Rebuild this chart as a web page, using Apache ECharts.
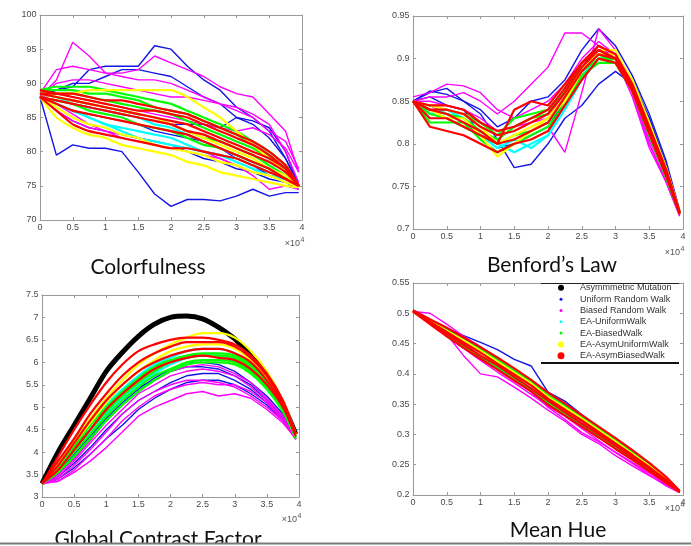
<!DOCTYPE html>
<html>
<head>
<meta charset="utf-8">
<script src="https://cdn.jsdelivr.net/npm/echarts@6/dist/echarts.min.js"></script>
<style>
html, body { margin: 0; padding: 0; background: #fff; }
#chart { width: 691px; height: 546px; }
</style>
</head>
<body>
<div id="chart"></div>
<script>
// sample positions along the run (same for every curve)
const xs = [0, 2500, 5000, 7500, 10000, 12500, 15000, 17500, 20000, 22500, 25000, 27500, 30000, 32500, 35000, 37500, 39500]

const methodNames = ['Asymmmetric Mutation', 'Uniform Random Walk', 'Biased Random Walk', 'EA-UniformWalk', 'EA-BiasedWalk', 'EA-AsymUniformWalk', 'EA-AsymBiasedWalk']
const methodColors = ['#000000', '#1414e6', '#ff00ff', '#00ffff', '#00ff00', '#ffff00', '#ff0000']

const plotTitles = ['Colorfulness', 'Benford’s Law', 'Global Contrast Factor', 'Mean Hue']
const yMins = [70, 0.7, 3, 0.2]
const yMaxs = [100, 0.95, 7.5, 0.55]
const ySteps = [5, 0.05, 0.5, 0.05]

// Colorfulness
const cfBlue = [
  [88, 79.5, 81, 80.5, 80.5, 80, 77, 73.8, 72, 73, 73, 72.8, 73.5, 74.5, 73.5, 74, 74],
  [88.5, 89, 89.5, 92, 92.5, 92.5, 92.5, 95.5, 95, 92.5, 90.5, 89, 86.5, 85, 83, 79, 75],
  [88, 89, 90, 90, 91, 92, 92, 91.5, 91, 89.5, 88, 87, 85, 84, 82, 79, 75],
  [88, 86, 84.5, 83.5, 83, 82.5, 82, 81.5, 81, 80, 79, 78.5, 77.5, 77, 76, 75.5, 74.5],
  [88, 87, 86, 85.5, 85, 84.5, 84, 83, 82.5, 82, 81.5, 80.5, 79, 78, 76.5, 76, 75],
  [88, 87.5, 87, 86.5, 86, 85.5, 85, 84.5, 84, 84, 84, 83.5, 85, 84.5, 83.5, 80, 75]
]
const cfMagenta = [
  [88, 90.5, 96, 94, 91.5, 91, 90.5, 90.5, 90, 89, 88, 87, 86.5, 85.5, 84, 80, 75.5],
  [88.5, 92, 92.5, 92, 91.5, 91.5, 92, 94, 93, 92, 91, 89.5, 88.5, 88, 85.5, 83, 77],
  [88, 90, 90.5, 90.5, 90, 89.5, 89, 88.5, 88, 88, 87.5, 87, 86, 85, 83, 81.5, 77.5],
  [88, 86, 84.5, 83.5, 83, 82.5, 82, 81.5, 81, 80.5, 80, 79, 78, 77, 76.5, 76, 75],
  [88, 88.5, 88, 87.5, 87, 86.5, 86, 85.5, 85, 84.5, 84, 83.5, 83, 83.5, 82.5, 80.5, 77],
  [88, 87, 85.5, 84, 83, 82, 81.5, 81, 80.5, 80, 79.5, 79, 78, 76.5, 74.5, 75, 74.5]
]
const cfCyan = [
  [88, 87, 86, 85, 84, 83.5, 83, 82.5, 82, 81, 80, 79.5, 78.5, 77.5, 76.5, 76, 75],
  [88.5, 88, 87, 86.5, 86, 85.5, 85, 84, 83.5, 82.5, 81.5, 80.5, 79.5, 78.5, 77.5, 76.5, 75],
  [88, 87, 86, 85, 84, 83, 82, 81.5, 81, 80.5, 80, 79.5, 79, 78, 77, 76, 75]
]
const cfGreen = [
  [89, 89.5, 89.5, 89.5, 89, 88.5, 88, 87.5, 87, 86, 85, 84, 83, 81.5, 80, 78, 75],
  [88.5, 88.5, 88.5, 88, 87.5, 87, 86.5, 86, 85.5, 84.5, 83.5, 82.5, 81.5, 80.5, 79, 77, 75],
  [88.5, 88, 87.5, 87, 86.5, 86, 85.5, 85, 84, 83, 82, 81.5, 80.5, 79.5, 78, 76.5, 75],
  [88, 87.5, 87, 86, 85.5, 85, 84, 83.5, 83, 82, 81, 80.5, 79.5, 78.5, 77.5, 76, 75],
  [89, 89, 89, 88.5, 88.5, 88, 87.5, 86.5, 86, 85.5, 84.5, 83.5, 82.5, 81, 79.5, 77.5, 75]
]
const cfYellow = [
  [88, 85, 83.5, 82.5, 82, 81, 80.5, 80, 79.5, 78.5, 78, 77, 76.5, 76, 75.5, 75, 74.8],
  [88, 86.5, 85, 84, 83.5, 82.5, 82, 81, 80.5, 80, 79.5, 78.5, 78, 77, 76.5, 75.5, 75],
  [88.5, 88, 87.5, 87, 86.5, 86, 85.5, 85, 84, 83, 82, 81, 80, 79, 77.5, 76.5, 75],
  [88.5, 88.5, 88.5, 89, 89, 89, 89, 89, 89, 88, 86.5, 85, 83, 81, 79, 77, 75]
]
const cfRed = [
  [88.5, 88.5, 88.5, 88, 87.5, 87.5, 87, 86.5, 86, 85.5, 84.5, 83.5, 82.5, 81.5, 80, 78, 75],
  [88, 87.5, 87, 86.5, 86, 85.5, 85, 84.5, 84, 83, 82.5, 81.5, 80.5, 79.5, 78.5, 77, 75],
  [88, 87, 86, 85.5, 85, 84.5, 84, 83.5, 83, 82.5, 81.5, 80.5, 79.5, 78.5, 77.5, 76, 75],
  [88, 86, 84, 83, 82.5, 82, 81.5, 81, 80.5, 80.5, 80, 79.5, 79, 78, 77, 76, 75],
  [88.5, 88, 87.5, 87, 86.5, 86, 85.5, 85, 84.5, 84, 83, 82, 81, 80, 79, 77.5, 75],
  [89, 88.5, 88, 87.5, 87, 86.5, 86, 86, 85.5, 85, 84, 83, 82, 81, 79.5, 77.5, 75]
]

// Benford's Law
const bfBlue = [
  [0.85, 0.862, 0.858, 0.85, 0.835, 0.805, 0.772, 0.776, 0.8, 0.83, 0.845, 0.87, 0.885, 0.87, 0.83, 0.775, 0.72],
  [0.85, 0.86, 0.865, 0.85, 0.84, 0.82, 0.83, 0.85, 0.855, 0.875, 0.91, 0.935, 0.915, 0.88, 0.835, 0.78, 0.722],
  [0.85, 0.855, 0.845, 0.84, 0.81, 0.795, 0.8, 0.81, 0.82, 0.85, 0.89, 0.915, 0.905, 0.875, 0.83, 0.775, 0.72]
]
const bfMagenta = [
  [0.85, 0.855, 0.855, 0.86, 0.85, 0.835, 0.85, 0.87, 0.89, 0.93, 0.93, 0.915, 0.9, 0.855, 0.795, 0.755, 0.716],
  [0.85, 0.845, 0.835, 0.83, 0.805, 0.79, 0.8, 0.81, 0.82, 0.79, 0.86, 0.935, 0.91, 0.86, 0.8, 0.755, 0.715],
  [0.85, 0.85, 0.845, 0.84, 0.83, 0.815, 0.82, 0.825, 0.83, 0.86, 0.895, 0.915, 0.905, 0.86, 0.805, 0.76, 0.717],
  [0.855, 0.86, 0.87, 0.868, 0.86, 0.84, 0.83, 0.84, 0.85, 0.87, 0.9, 0.92, 0.905, 0.86, 0.8, 0.757, 0.716]
]
const bfCyan = [
  [0.85, 0.84, 0.835, 0.83, 0.815, 0.8, 0.79, 0.8, 0.81, 0.845, 0.88, 0.9, 0.9, 0.865, 0.815, 0.765, 0.72],
  [0.85, 0.835, 0.84, 0.83, 0.81, 0.795, 0.805, 0.795, 0.81, 0.84, 0.875, 0.9, 0.895, 0.865, 0.815, 0.765, 0.718]
]
const bfGreen = [
  [0.85, 0.845, 0.84, 0.835, 0.825, 0.81, 0.83, 0.835, 0.84, 0.86, 0.89, 0.905, 0.9, 0.868, 0.818, 0.767, 0.72],
  [0.85, 0.84, 0.835, 0.83, 0.815, 0.805, 0.82, 0.83, 0.835, 0.865, 0.89, 0.905, 0.895, 0.865, 0.815, 0.765, 0.718],
  [0.85, 0.835, 0.83, 0.82, 0.81, 0.8, 0.81, 0.815, 0.825, 0.85, 0.885, 0.9, 0.9, 0.865, 0.812, 0.765, 0.718],
  [0.85, 0.825, 0.825, 0.825, 0.805, 0.79, 0.8, 0.81, 0.82, 0.845, 0.88, 0.895, 0.895, 0.862, 0.81, 0.76, 0.718]
]
const bfYellow = [
  [0.85, 0.845, 0.84, 0.835, 0.82, 0.8, 0.81, 0.82, 0.83, 0.855, 0.89, 0.905, 0.905, 0.875, 0.825, 0.772, 0.72],
  [0.85, 0.84, 0.83, 0.83, 0.81, 0.785, 0.8, 0.815, 0.83, 0.85, 0.885, 0.91, 0.91, 0.87, 0.82, 0.77, 0.72]
]
const bfRed = [
  [0.85, 0.84, 0.84, 0.835, 0.82, 0.81, 0.815, 0.825, 0.835, 0.86, 0.89, 0.91, 0.9, 0.865, 0.815, 0.765, 0.718],
  [0.85, 0.83, 0.83, 0.82, 0.81, 0.8, 0.805, 0.815, 0.825, 0.855, 0.885, 0.905, 0.9, 0.868, 0.818, 0.768, 0.72],
  [0.85, 0.82, 0.815, 0.81, 0.8, 0.79, 0.8, 0.805, 0.815, 0.845, 0.875, 0.9, 0.895, 0.862, 0.812, 0.762, 0.718],
  [0.85, 0.845, 0.845, 0.84, 0.825, 0.815, 0.82, 0.83, 0.84, 0.865, 0.895, 0.915, 0.905, 0.87, 0.82, 0.77, 0.72],
  [0.85, 0.84, 0.835, 0.825, 0.815, 0.8, 0.84, 0.85, 0.845, 0.87, 0.895, 0.91, 0.9, 0.866, 0.815, 0.766, 0.718]
]

// Global Contrast Factor
const gcBlack = [
  [3.3, 4.0, 4.6, 5.2, 5.8, 6.22, 6.58, 6.85, 7.0, 7.03, 6.97, 6.78, 6.52, 6.15, 5.68, 5.05, 4.4]
]
const gcBlue = [
  [3.3, 3.55, 3.95, 4.35, 4.75, 5.1, 5.4, 5.65, 5.85, 6.0, 6.0, 5.95, 5.8, 5.55, 5.25, 4.85, 4.3],
  [3.3, 3.45, 3.75, 4.1, 4.5, 4.85, 5.15, 5.35, 5.55, 5.7, 5.75, 5.75, 5.6, 5.4, 5.1, 4.75, 4.3],
  [3.3, 3.4, 3.65, 3.95, 4.3, 4.6, 4.95, 5.2, 5.4, 5.55, 5.6, 5.6, 5.5, 5.3, 5.05, 4.7, 4.3],
  [3.3, 3.5, 3.85, 4.3, 4.85, 5.2, 5.45, 5.6, 5.8, 5.9, 5.9, 5.85, 5.7, 5.5, 5.15, 4.8, 4.3]
]
const gcMagenta = [
  [3.3, 3.35, 3.55, 3.8, 4.1, 4.45, 4.8, 5.0, 5.15, 5.3, 5.35, 5.25, 5.3, 5.2, 4.95, 4.65, 4.3],
  [3.3, 3.4, 3.7, 4.05, 4.45, 4.85, 5.15, 5.35, 5.5, 5.6, 5.6, 5.55, 5.45, 5.25, 5.0, 4.7, 4.3],
  [3.3, 3.45, 3.8, 4.2, 4.6, 4.95, 5.3, 5.5, 5.7, 5.8, 5.85, 5.8, 5.7, 5.45, 5.15, 4.75, 4.3],
  [3.3, 3.35, 3.6, 3.95, 4.3, 4.7, 5.0, 5.25, 5.4, 5.5, 5.55, 5.5, 5.5, 5.35, 5.1, 4.7, 4.28],
  [3.3, 3.5, 3.85, 4.25, 4.7, 5.05, 5.35, 5.6, 5.8, 5.9, 5.95, 5.9, 5.75, 5.55, 5.2, 4.8, 4.3]
]
const gcCyan = [
  [3.3, 3.7, 4.15, 4.6, 5.05, 5.4, 5.7, 5.95, 6.1, 6.25, 6.3, 6.3, 6.2, 5.95, 5.6, 5.05, 4.4],
  [3.3, 3.6, 4.05, 4.45, 4.85, 5.2, 5.5, 5.75, 5.95, 6.1, 6.15, 6.15, 6.05, 5.85, 5.5, 5.0, 4.35]
]
const gcGreen = [
  [3.3, 3.65, 4.1, 4.5, 4.9, 5.25, 5.55, 5.8, 6.0, 6.1, 6.15, 6.15, 6.1, 5.9, 5.5, 5.0, 4.35],
  [3.3, 3.6, 4.0, 4.4, 4.8, 5.15, 5.45, 5.7, 5.85, 6.0, 6.05, 6.05, 6.0, 5.8, 5.45, 4.95, 4.35],
  [3.3, 3.55, 3.9, 4.3, 4.7, 5.05, 5.35, 5.6, 5.8, 5.95, 6.0, 6.0, 5.95, 5.75, 5.4, 4.9, 4.3],
  [3.3, 3.7, 4.15, 4.6, 5.0, 5.35, 5.65, 5.9, 6.05, 6.15, 6.2, 6.2, 6.15, 5.95, 5.55, 5.0, 4.35]
]
const gcYellow = [
  [3.3, 3.75, 4.25, 4.75, 5.2, 5.6, 5.95, 6.2, 6.4, 6.55, 6.65, 6.65, 6.55, 6.25, 5.8, 5.15, 4.4],
  [3.3, 3.7, 4.2, 4.65, 5.1, 5.5, 5.8, 6.05, 6.25, 6.35, 6.4, 6.4, 6.3, 6.05, 5.65, 5.1, 4.4]
]
const gcRed = [
  [3.3, 3.9, 4.5, 5.05, 5.55, 5.95, 6.25, 6.4, 6.5, 6.55, 6.55, 6.5, 6.4, 6.15, 5.75, 5.15, 4.4],
  [3.3, 3.7, 4.2, 4.7, 5.15, 5.5, 5.8, 6.0, 6.15, 6.25, 6.3, 6.3, 6.2, 6.0, 5.6, 5.05, 4.4],
  [3.3, 3.6, 4.05, 4.5, 4.95, 5.3, 5.6, 5.85, 6.0, 6.1, 6.15, 6.1, 6.05, 5.85, 5.5, 5.0, 4.35],
  [3.3, 3.8, 4.3, 4.85, 5.3, 5.7, 6.0, 6.2, 6.35, 6.45, 6.45, 6.45, 6.35, 6.1, 5.7, 5.1, 4.4]
]

// Mean Hue
const mhBlue = [
  [0.505, 0.49, 0.476, 0.463, 0.452, 0.44, 0.424, 0.413, 0.37, 0.355, 0.333, 0.312, 0.292, 0.27, 0.25, 0.229, 0.207],
  [0.503, 0.484, 0.465, 0.447, 0.428, 0.41, 0.392, 0.372, 0.35, 0.332, 0.314, 0.296, 0.277, 0.259, 0.24, 0.221, 0.205],
  [0.504, 0.488, 0.472, 0.456, 0.439, 0.421, 0.403, 0.385, 0.364, 0.344, 0.325, 0.306, 0.288, 0.27, 0.25, 0.228, 0.206]
]
const mhMagenta = [
  [0.503, 0.49, 0.465, 0.43, 0.4, 0.395, 0.378, 0.36, 0.34, 0.322, 0.3, 0.285, 0.265, 0.248, 0.232, 0.217, 0.204],
  [0.503, 0.5, 0.482, 0.462, 0.445, 0.425, 0.405, 0.385, 0.362, 0.342, 0.322, 0.302, 0.283, 0.263, 0.243, 0.222, 0.205],
  [0.503, 0.483, 0.462, 0.442, 0.422, 0.403, 0.385, 0.366, 0.347, 0.33, 0.31, 0.29, 0.27, 0.252, 0.233, 0.215, 0.204],
  [0.503, 0.486, 0.468, 0.449, 0.43, 0.41, 0.391, 0.37, 0.345, 0.325, 0.303, 0.288, 0.271, 0.254, 0.236, 0.218, 0.204]
]
const mhCyan = [
  [0.504, 0.489, 0.474, 0.458, 0.442, 0.425, 0.407, 0.389, 0.367, 0.349, 0.331, 0.312, 0.292, 0.272, 0.252, 0.229, 0.207]
]
const mhGreen = [
  [0.504, 0.488, 0.473, 0.457, 0.441, 0.423, 0.405, 0.386, 0.365, 0.347, 0.328, 0.309, 0.29, 0.27, 0.25, 0.228, 0.206],
  [0.503, 0.484, 0.464, 0.446, 0.429, 0.411, 0.393, 0.375, 0.353, 0.335, 0.317, 0.299, 0.28, 0.262, 0.242, 0.222, 0.205]
]
const mhYellow = [
  [0.504, 0.487, 0.471, 0.455, 0.438, 0.42, 0.402, 0.384, 0.362, 0.344, 0.326, 0.307, 0.288, 0.268, 0.248, 0.227, 0.206]
]
const mhRed = [
  [0.505, 0.49, 0.476, 0.46, 0.444, 0.427, 0.409, 0.39, 0.369, 0.351, 0.332, 0.313, 0.294, 0.274, 0.253, 0.23, 0.207],
  [0.503, 0.482, 0.462, 0.443, 0.425, 0.407, 0.389, 0.371, 0.349, 0.331, 0.313, 0.295, 0.276, 0.258, 0.239, 0.22, 0.205],
  [0.504, 0.486, 0.469, 0.452, 0.435, 0.417, 0.399, 0.381, 0.359, 0.341, 0.323, 0.304, 0.285, 0.266, 0.246, 0.225, 0.206],
  [0.503, 0.484, 0.466, 0.448, 0.43, 0.414, 0.395, 0.376, 0.356, 0.337, 0.318, 0.3, 0.281, 0.262, 0.243, 0.223, 0.205]
]

const plots = [
  [[], cfBlue, cfMagenta, cfCyan, cfGreen, cfYellow, cfRed],
  [[], bfBlue, bfMagenta, bfCyan, bfGreen, bfYellow, bfRed],
  [gcBlack, gcBlue, gcMagenta, gcCyan, gcGreen, gcYellow, gcRed],
  [[], mhBlue, mhMagenta, mhCyan, mhGreen, mhYellow, mhRed]
]

// layout
const grids = [
  { left: 40, top: 15, width: 262, height: 205 },
  { left: 413, top: 16, width: 270, height: 213 },
  { left: 42, top: 295, width: 257, height: 202 },
  { left: 413, top: 283, width: 270, height: 212 }
]
const lineWidths = [5, 1.4, 1.4, 2.2, 2.2, 2.2, 2.2]
const markerSizes = [6, 3, 3, 3, 3, 6, 7]
const plotSmooth = [0.15, 0, 0.3, 0]
const titlePos = [[148, 267], [552, 265], [158, 539], [558, 530]]
const expPos = [[300, 244], [680, 253], [297, 520], [680, 509]]

const axisGray = '#9a9a9a'
const labelFont = 'Liberation Sans'

let xAxes = []
let yAxes = []
// bottom / left axes with labels, then top / right mirrored boxes
for (let side = 0; side < 2; side++) {
  grids.forEach((g, p) => {
    xAxes.push({
      type: 'value', gridIndex: p, position: side ? 'top' : 'bottom',
      min: 0, max: 40000, interval: 5000,
      axisLine: { show: true, onZero: false, lineStyle: { color: axisGray } },
      axisTick: { show: true, inside: true, length: 3, lineStyle: { color: axisGray } },
      axisLabel: {
        show: !side, margin: 3.5, fontSize: 9, color: '#4a4a4a', fontFamily: labelFont,
        formatter: v => String(v / 10000)
      },
      splitLine: { show: false }
    })
    yAxes.push({
      type: 'value', gridIndex: p, position: side ? 'right' : 'left',
      min: yMins[p], max: yMaxs[p], interval: ySteps[p],
      axisLine: { show: true, onZero: false, lineStyle: { color: axisGray } },
      axisTick: { show: true, inside: true, length: 3, lineStyle: { color: axisGray } },
      axisLabel: {
        show: !side, margin: 3.5, fontSize: 9, color: '#4a4a4a', fontFamily: labelFont,
        formatter: v => String(+v.toFixed(2))
      },
      splitLine: { show: false }
    })
  })
}

let series = []
plots.forEach((groups, p) => {
  groups.forEach((lines, m) => {
    lines.forEach(vals => {
      series.push({
        name: methodNames[m],
        type: 'line',
        xAxisIndex: p,
        yAxisIndex: p,
        data: vals.map((v, i) => [xs[i], v]),
        showSymbol: false,
        smooth: (m === 1 || m === 2) ? 0 : plotSmooth[p],
        silent: true,
        lineStyle: { color: methodColors[m], width: lineWidths[m] },
        itemStyle: { color: methodColors[m] }
      })
    })
  })
})

// one legend per row so each marker keeps its own size
let legends = methodNames.map((name, m) => ({
  data: [name],
  left: 561 - markerSizes[m] / 2,
  top: 281.8 + m * 11.33,
  padding: 0,
  icon: 'circle',
  itemWidth: markerSizes[m],
  itemHeight: markerSizes[m],
  selectedMode: false,
  textStyle: {
    fontSize: 9, color: '#333', fontFamily: labelFont, lineHeight: 12,
    padding: [0, 0, 0, 14 - markerSizes[m] / 2]
  }
}))

let graphics = []
plotTitles.forEach((t, p) => {
  graphics.push({
    type: 'text', x: titlePos[p][0], y: titlePos[p][1], z: 5,
    style: { text: t, align: 'center', verticalAlign: 'middle', font: '21px Lato', fill: '#111' }
  })
  graphics.push({
    type: 'text', x: expPos[p][0], y: expPos[p][1], z: 5,
    style: { text: '×10', align: 'right', verticalAlign: 'middle', font: '9px Liberation Sans', fill: '#555' }
  })
  graphics.push({
    type: 'text', x: expPos[p][0] + 0.5, y: expPos[p][1] - 4, z: 5,
    style: { text: '4', align: 'left', verticalAlign: 'middle', font: '7px Liberation Sans', fill: '#555' }
  })
})
// legend box
graphics.push({ type: 'rect', z: 3, shape: { x: 541, y: 283, width: 138, height: 80 }, style: { fill: '#fff' } })
graphics.push({ type: 'line', z: 3, shape: { x1: 541, y1: 283.5, x2: 679, y2: 283.5 }, style: { stroke: '#222', lineWidth: 1 } })
graphics.push({ type: 'line', z: 3, shape: { x1: 541, y1: 363, x2: 679, y2: 363 }, style: { stroke: '#111', lineWidth: 2 } })
// slide edge at the bottom
graphics.push({ type: 'rect', z: 10, shape: { x: 0, y: 543, width: 691, height: 3 }, style: { fill: '#fff' } })
graphics.push({ type: 'line', z: 11, shape: { x1: 0, y1: 543.5, x2: 691, y2: 543.5 }, style: { stroke: '#7a7a7a', lineWidth: 2 } })

let myChart = echarts.init(document.getElementById('chart'))
myChart.setOption({
  animation: false,
  grid: grids.map(g => Object.assign({ containLabel: false }, g)),
  xAxis: xAxes,
  yAxis: yAxes,
  legend: legends,
  graphic: graphics,
  series: series
})
</script>
</body>
</html>
